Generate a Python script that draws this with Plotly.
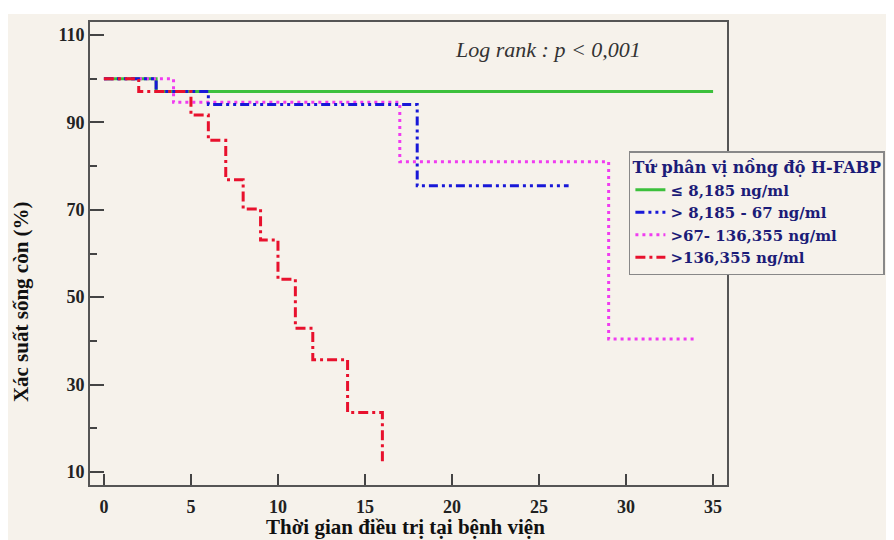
import plotly.graph_objects as go

# Kaplan-Meier steps (time in days, survival in %)
t_q1 = [0, 3, 35]
s_q1 = [100, 97.1, 97.1]

t_q2 = [0, 3, 6, 18, 26.7]
s_q2 = [100, 97.1, 94.1, 75.5, 75.5]

t_q3 = [0, 4, 17, 29, 34]
s_q3 = [100, 94.6, 81.0, 40.4, 40.4]

t_q4 = [0, 2, 5, 6, 7, 8, 9, 10, 11, 12, 14, 16]
s_q4 = [100, 97.1, 91.7, 85.9, 76.9, 70.2, 63.1, 54.1, 42.9, 35.7, 23.6, 11.8]

labels = ["≤ 8,185 ng/ml", "> 8,185 - 67 ng/ml", ">67- 136,355 ng/ml", ">136,355 ng/ml"]
x_ticks = [0, 5, 10, 15, 20, 25, 30, 35]
y_ticks = [10, 30, 50, 70, 90, 110]

BG = "#f6f2eb"
SERIF = "Liberation Serif"
NAVY = "#1c1c78"

fig = go.Figure()

# drawing order: green, magenta, blue, red (legend order kept with legendrank)
series = [
    (t_q1, s_q1, labels[0], "#3cc03c", "solid", 1),
    (t_q3, s_q3, labels[2], "#f03cf0", "3px,4px", 3),
    (t_q2, s_q2, labels[1], "#1818d8", "9px,4px,3px,4px,3px,4px", 2),
    (t_q4, s_q4, labels[3], "#e8112d", "10px,4px,3px,4px", 4),
]
for t, s, name, color, dash, rank in series:
    fig.add_trace(go.Scatter(
        x=t, y=s, name=name, mode="lines",
        line=dict(color=color, width=3, dash=dash, shape="hv"),
        legendrank=rank,
    ))

fig.add_annotation(
    x=25.5, y=106.6, xref="x", yref="y", showarrow=False,
    text="<i>Log rank : p < 0,001</i>",
    font=dict(family=SERIF, size=22, color="#333333"),
)

# axis titles placed by hand (the y one sits below the plot centre in the original)
fig.add_annotation(
    x=0, y=0.395, xref="paper", yref="paper", xshift=-69,
    xanchor="center", yanchor="middle",
    showarrow=False, textangle=-90,
    text="Xác suất sống còn (%)",
    font=dict(family=SERIF, size=21, color="#111111", weight="bold"),
)
fig.add_annotation(
    x=0.495, y=0, xref="paper", yref="paper", yshift=-42,
    xanchor="center", yanchor="middle", showarrow=False,
    text="Thời gian điều trị tại bệnh viện",
    font=dict(family=SERIF, size=21, color="#111111", weight="bold"),
)

# beige sheet, leaving a thin white edge at the top, as in the picture
fig.add_shape(
    type="rect", xref="paper", yref="paper", xsizemode="pixel", ysizemode="pixel",
    xanchor=0, yanchor=1, x0=-82, x1=820, y0=8, y1=-540,
    fillcolor=BG, line=dict(width=0), layer="below",
)

axis_common = dict(
    showline=True, linecolor="#555555", linewidth=2, mirror=True,
    ticks="inside", tickcolor="#444444", tickwidth=2,
    showgrid=False, zeroline=False,
    tickfont=dict(family=SERIF, size=18, color="#222222", weight="bold"),
)

# the page adds an 8px body margin, so margins are trimmed by 8px at left/top
fig.update_layout(
    width=894, height=540,
    margin=dict(l=82, r=175, t=14, b=63),
    paper_bgcolor="white", plot_bgcolor=BG,
    font=dict(family=SERIF),
    xaxis=dict(
        range=[-0.8, 35.8], tickvals=x_ticks, ticklen=11, ticklabelstandoff=4,
        **axis_common,
    ),
    yaxis=dict(
        range=[7, 113], tickvals=y_ticks, ticklen=14,
        minor=dict(tickvals=[20, 40, 60, 80, 100], ticks="inside", ticklen=7,
                   tickwidth=2, tickcolor="#444444"),
        **axis_common,
    ),
    legend=dict(
        x=0.846, y=0.721, xanchor="left", yanchor="top",
        bgcolor=BG, bordercolor="#888888", borderwidth=1.5,
        font=dict(family="DejaVu Serif", size=15, color=NAVY, weight="bold"),
        title=dict(text="Tứ phân vị nồng độ H-FABP",
                   font=dict(family="DejaVu Serif", size=16, color=NAVY, weight="bold")),
        tracegroupgap=0, itemwidth=30,
    ),
    showlegend=True,
)

fig.write_html("out.html")
